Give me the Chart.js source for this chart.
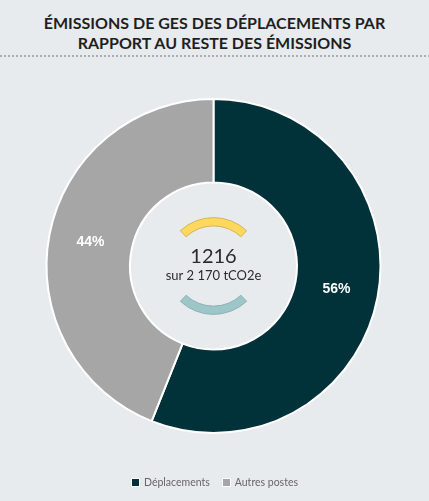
<!DOCTYPE html>
<html><head><meta charset="utf-8">
<script src="https://cdn.jsdelivr.net/npm/chart.js@4/dist/chart.umd.min.js"></script>
<style>
html,body{margin:0;padding:0;background:#e8ebee;width:429px;height:501px;overflow:hidden;}
#title{position:absolute;top:13px;left:0;width:429px;text-align:center;font-family:Lato,sans-serif;font-weight:700;font-size:16px;line-height:20px;color:#1f1f1f;}
#sep{position:absolute;top:55px;left:0;width:429px;height:2px;background-image:linear-gradient(to right,#a9adb1 2px,transparent 2px);background-size:4px 2px;background-repeat:repeat-x;}
#wrap{position:absolute;top:60px;left:0;width:429px;height:441px;}
#legend{position:absolute;top:475px;left:0;width:429px;text-align:center;font-family:Lato,sans-serif;font-size:10.5px;color:#666;line-height:14px;}
#legend span.item{display:inline-block;margin:0 6px;}
#legend span.box{display:inline-block;width:7px;height:7px;border:1px solid #fff;margin-right:4px;vertical-align:-1px;}
</style></head>
<body>
<div id="title">ÉMISSIONS DE GES DES DÉPLACEMENTS PAR<br>RAPPORT AU RESTE DES ÉMISSIONS</div>
<div id="sep"></div>
<div id="wrap"><canvas id="c"></canvas></div>
<div id="legend"></div>
<script>
const categories = ['Déplacements', 'Autres postes'];
const values = [1216, 954];
const percentLabels = ['56%', '44%'];
const colors = ['#01323a', '#a6a6a6'];
const centerMain = '1216';
const centerSub = 'sur 2 170 tCO2e';

// HTML legend built from the arrays
const legendEl = document.getElementById('legend');
categories.forEach((c, i) => {
  const item = document.createElement('span');
  item.className = 'item';
  const box = document.createElement('span');
  box.className = 'box';
  box.style.background = colors[i];
  item.appendChild(box);
  item.appendChild(document.createTextNode(c));
  legendEl.appendChild(item);
});

const centerPlugin = {
  id: 'centerDeco',
  afterDatasetsDraw(chart) {
    const meta = chart.getDatasetMeta(0);
    const a0 = meta.data[0];
    const ctx = chart.ctx;
    const cx = a0.x, cy = a0.y;
    const ir = a0.innerRadius;
    const rOut = ir * 0.58, rIn = ir * 0.48;
    function arcBand(start, end, fill, stroke) {
      ctx.save();
      ctx.beginPath();
      ctx.arc(cx, cy, rOut, start, end);
      ctx.arc(cx, cy, rIn, end, start, true);
      ctx.closePath();
      ctx.fillStyle = fill; ctx.fill();
      ctx.lineWidth = 0.8; ctx.strokeStyle = stroke; ctx.stroke();
      ctx.restore();
    }
    const sp = Math.PI * 0.24;
    arcBand(-Math.PI/2 - sp, -Math.PI/2 + sp, '#fdd85c', '#c9ab4a');
    arcBand(Math.PI/2 - sp, Math.PI/2 + sp, '#9cc6c7', '#86aaab');
    ctx.save();
    ctx.fillStyle = '#2b2b2b';
    ctx.textAlign = 'center';
    ctx.textBaseline = 'middle';
    ctx.font = '400 20px Lato, sans-serif';
    ctx.fillText(centerMain, cx, cy - 9);
    ctx.font = '400 13px Lato, sans-serif';
    ctx.fillText(centerSub, cx, cy + 10);
    ctx.font = 'bold 14px "Liberation Sans", Arial, sans-serif';
    ctx.fillStyle = '#ffffff';
    meta.data.forEach((arc, i) => {
      const mid = (arc.startAngle + arc.endAngle) / 2;
      const r = (arc.innerRadius + arc.outerRadius) / 2;
      ctx.fillText(percentLabels[i], cx + Math.cos(mid) * r, cy + Math.sin(mid) * r);
    });
    ctx.restore();
  }
};

new Chart(document.getElementById('c'), {
  type: 'doughnut',
  data: {
    labels: categories,
    datasets: [{
      data: values,
      backgroundColor: colors,
      borderColor: '#ffffff',
      borderWidth: 2,
      hoverOffset: 0
    }]
  },
  options: {
    responsive: true,
    maintainAspectRatio: false,
    animation: false,
    cutout: '50%',
    layout: { padding: { top: 38, bottom: 67, right: 2 } },
    plugins: {
      legend: { display: false },
      tooltip: { enabled: false }
    }
  },
  plugins: [centerPlugin]
});
</script>
</body></html>
